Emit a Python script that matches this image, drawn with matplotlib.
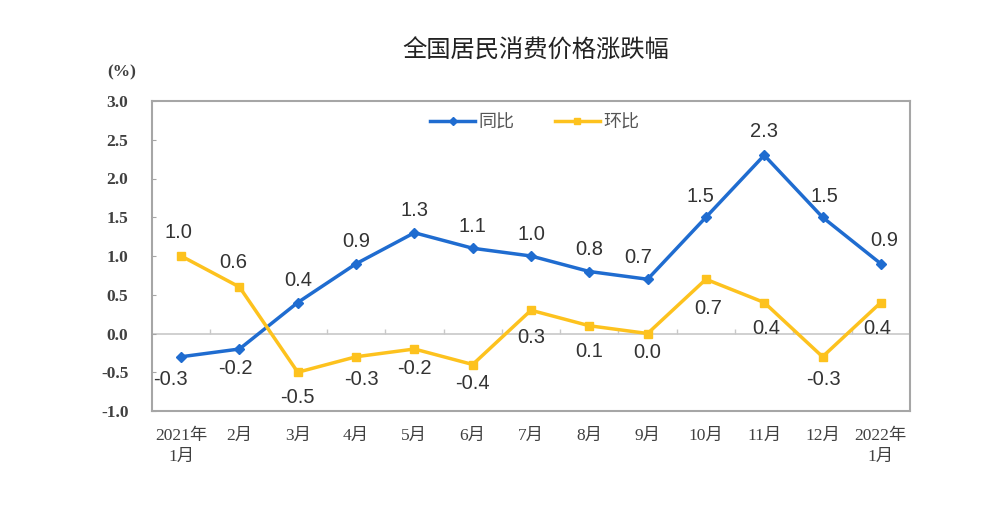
import matplotlib
matplotlib.use('Agg')
import matplotlib.pyplot as plt
from matplotlib.lines import Line2D
import numpy as np

plt.rcParams['font.family'] = ['Liberation Sans', 'Noto Sans CJK SC']

# data
months = ['2021年\n1月', '2月', '3月', '4月', '5月', '6月', '7月', '8月', '9月',
          '10月', '11月', '12月', '2022年\n1月']
yoy = [-0.3, -0.2, 0.4, 0.9, 1.3, 1.1, 1.0, 0.8, 0.7, 1.5, 2.3, 1.5, 0.9]   # 同比
mom = [1.0, 0.6, -0.5, -0.3, -0.2, -0.4, 0.3, 0.1, 0.0, 0.7, 0.4, -0.3, 0.4]  # 环比
yticks = [-1.0, -0.5, 0.0, 0.5, 1.0, 1.5, 2.0, 2.5, 3.0]

# label offsets in pixels (dx, dy)
yoy_off = [(-11, -23), (-4, -19)] + [(0, 22)] * 6 + [(-9, 22), (-5, 21), (0, 24), (2, 21), (3, 23)]
mom_off = [(-3, 24), (-6, 25), (0, -25), (5, -23), (0, -20), (0, -19), (0, -27), (0, -26),
           (0, -19), (2, -29), (2, -26), (1, -23), (-4, -26)]

BLUE = '#1f6cd0'
YELLOW = '#fdc21e'
GRAY = '#a6a6a6'
TXT = '#333333'

fig = plt.figure(figsize=(10, 5.24), dpi=100)
ax = fig.add_axes([0.152, 1 - 411 / 524, 0.758, 310 / 524])
x = np.arange(len(months))

ax.set_xlim(-0.5, len(months) - 0.5)
ax.set_ylim(-1.0, 3.0)

# zero line with small category ticks
ax.axhline(0, color='#c8c8c8', lw=1.2, zorder=1)
ax.vlines(np.arange(0.5, len(months) - 1, 1), 0, 0.06, color='#c8c8c8', lw=1.0, zorder=1)

ax.plot(x, yoy, color=BLUE, lw=2.5, marker='D', ms=5.5, zorder=3)
ax.plot(x, mom, color=YELLOW, lw=2.5, marker='s', ms=5.5, zorder=3)

for xi, v, (dx, dy) in zip(x, yoy, yoy_off):
    ax.annotate(f'{v:.1f}', (xi, v), xytext=(dx, dy), textcoords='offset pixels',
                ha='center', va='center', fontsize=14.5, color=TXT)
for xi, v, (dx, dy) in zip(x, mom, mom_off):
    ax.annotate(f'{v:.1f}', (xi, v), xytext=(dx, dy), textcoords='offset pixels',
                ha='center', va='center', fontsize=14.5, color=TXT)

for s in ax.spines.values():
    s.set_color(GRAY)
    s.set_linewidth(1.5)

ax.set_yticks(yticks)
ax.set_yticklabels([f'{t:.1f}' for t in yticks], family=['Liberation Serif'],
                   fontsize=12.5, color='#404040', fontweight='bold')
ax.tick_params(axis='y', direction='in', length=3, color=GRAY, pad=17)

ax.set_xticks(x)
ax.set_xticklabels(months, family=['Liberation Serif', 'Noto Sans CJK SC'],
                   fontsize=12.5, color='#404040', linespacing=1.45)
ax.tick_params(axis='x', length=0, pad=12)

handles = [Line2D([], [], color=BLUE, lw=2.5, marker='D', ms=4.5),
           Line2D([], [], color=YELLOW, lw=2.5, marker='s', ms=4.5)]
ax.legend(handles, ['同比', '环比'], loc='center', bbox_to_anchor=(0.505, 0.932), ncol=2,
          frameon=False, handlelength=2.5, columnspacing=2.2, handletextpad=0.2,
          prop={'family': 'Noto Sans CJK SC', 'size': 13}, labelcolor='#555555')

fig.text(0.122, 1 - 72 / 524, '(%)', family='Liberation Serif', fontsize=12.5,
         color='#404040', fontweight='bold', ha='center', va='center')
fig.text(0.536, 1 - 51 / 524, '全国居民消费价格涨跌幅', family='Noto Sans CJK SC',
         fontsize=17.5, color='#222222', ha='center', va='center')

fig.savefig('out.png', dpi=100)
